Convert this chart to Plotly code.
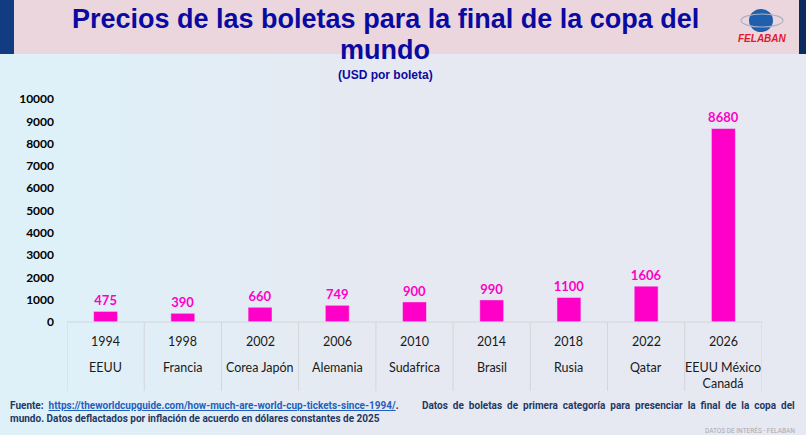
import plotly.graph_objects as go

W, H = 806, 435
L, R, T, B = 67, 44, 99, 113   # plot area in pixels

anios = ["1994", "1998", "2002", "2006", "2010", "2014", "2018", "2022", "2026"]
sedes = ["EEUU", "Francia", "Corea Japón", "Alemania", "Sudafrica", "Brasil", "Rusia", "Qatar",
         "EEUU México<br>Canadá"]
precios = [475, 390, 660, 749, 900, 990, 1100, 1606, 8680]
ticks_y = [0, 1000, 2000, 3000, 4000, 5000, 6000, 7000, 8000, 9000, 10000]

AZUL = "#0a0aa0"
MAGENTA = "#ff00c8"


# convierte pixeles de la ventana a coordenadas paper
def px(x):
    return (x - L) / (W - L - R)


def py(y):
    return (H - B - y) / (H - T - B)


pos = list(range(len(anios)))

fig = go.Figure()
fig.add_trace(go.Bar(
    x=pos, y=precios, width=0.31,
    marker_color=MAGENTA,
    text=[str(p) for p in precios], textposition="outside", constraintext="none",
    cliponaxis=False,
    textfont=dict(family="Lato", size=13, color=MAGENTA, weight="bold"),
    hoverinfo="skip"))

shapes = []
# zona mas clara a la izquierda del fondo (degradado aproximado)
for w in range(40, 400, 40):
    shapes.append(dict(type="rect", xref="paper", yref="paper", x0=px(0), x1=px(w), y0=py(435), y1=py(54),
                       fillcolor="#e2f6fd", opacity=0.12, line_width=0, layer="below"))
# banda del titulo y franjas laterales
shapes.append(dict(type="rect", xref="paper", yref="paper", x0=px(14), x1=px(799), y0=py(54), y1=py(0),
                   fillcolor="#ecd6de", line_width=0, layer="below"))
shapes.append(dict(type="rect", xref="paper", yref="paper", x0=px(0), x1=px(14), y0=py(54), y1=py(0),
                   fillcolor="#123c82", line_width=0, layer="below"))
shapes.append(dict(type="rect", xref="paper", yref="paper", x0=px(799), x1=px(806), y0=py(54), y1=py(0),
                   fillcolor="#0c2a5e", line_width=0, layer="below"))
# logo
shapes.append(dict(type="circle", xref="paper", yref="paper", x0=px(749), x1=px(773), y0=py(32), y1=py(9),
                   fillcolor="#1f5fae", line_width=0))
shapes.append(dict(type="circle", xref="paper", yref="paper", x0=px(741), x1=px(783), y0=py(27), y1=py(14),
                   line=dict(color="#a9b3c4", width=1.2)))

# tabla de categorias
for i in range(len(anios) + 1):
    shapes.append(dict(type="line", xref="x", yref="paper", x0=i - 0.5, x1=i - 0.5, y0=py(391), y1=0,
                       line=dict(color="#d3d5dc", width=1)))
shapes.append(dict(type="line", xref="x", yref="paper", x0=-0.5, x1=len(anios) - 0.5, y0=0, y1=0,
                   line=dict(color="#d3d5dc", width=1)))

ann = []
for i, (a, s) in enumerate(zip(anios, sedes)):
    ann.append(dict(x=i, y=py(341), xref="x", yref="paper", text=a, showarrow=False,
                    xanchor="center", yanchor="middle",
                    font=dict(family="Lato", size=12.5, color="#1a1a1a")))
    ann.append(dict(x=i, y=py(358), xref="x", yref="paper", text=s, showarrow=False,
                    xanchor="center", yanchor="top",
                    font=dict(family="Lato", size=12.5, color="#1a1a1a")))

# titulo
ann.append(dict(x=px(385), y=py(19), xref="paper", yref="paper", showarrow=False,
                xanchor="center", yanchor="middle",
                text="<b>Precios de las boletas para la final de la copa del</b>",
                font=dict(family="Liberation Sans", size=27, color=AZUL)))
ann.append(dict(x=px(385), y=py(50), xref="paper", yref="paper", showarrow=False,
                xanchor="center", yanchor="middle",
                text="<b>mundo</b>", font=dict(family="Liberation Sans", size=27, color=AZUL)))
ann.append(dict(x=px(385), y=py(75), xref="paper", yref="paper", showarrow=False,
                xanchor="center", yanchor="middle",
                text="<b>(USD por boleta)</b>", font=dict(family="Liberation Sans", size=12, color=AZUL)))
ann.append(dict(x=px(762), y=py(39), xref="paper", yref="paper", showarrow=False,
                xanchor="center", yanchor="middle",
                text="<b><i>FELABAN</i></b>", font=dict(family="Liberation Sans", size=10, color="#e0192b")))

# fuente (la primera linea va justificada: se parte en dos trozos)
NAVY = "#1f3864"
ann.append(dict(x=px(8), y=py(405), xref="paper", yref="paper", showarrow=False,
                xanchor="left", yanchor="middle",
                text="<b>Fuente:  <span style='color:#1f5fbf'><u>https://theworldcupguide.com/how-much-are-world-cup-tickets-since-1994/</u></span>.</b>",
                font=dict(family="Roboto", size=10, color=NAVY)))
ann.append(dict(x=px(797), y=py(405), xref="paper", yref="paper", showarrow=False,
                xanchor="right", yanchor="middle",
                text="<b>Datos  de  boletas  de  primera  categoría  para  presenciar  la  final  de  la  copa  del</b>",
                font=dict(family="Roboto", size=10, color=NAVY)))
ann.append(dict(x=px(8), y=py(418), xref="paper", yref="paper", showarrow=False,
                xanchor="left", yanchor="middle",
                text="<b>mundo. Datos deflactados por inflación de acuerdo en dólares constantes de 2025</b>",
                font=dict(family="Roboto", size=10, color=NAVY)))
ann.append(dict(x=px(797), y=py(430), xref="paper", yref="paper", showarrow=False,
                xanchor="right", yanchor="middle",
                text="DATOS DE INTERÉS - FELABAN", font=dict(family="Roboto", size=6.5, color="#a8a8b0")))

fig.update_layout(
    width=W, height=H,
    margin=dict(l=L, r=R, t=T, b=B),
    paper_bgcolor="#e6e9f1", plot_bgcolor="rgba(0,0,0,0)",
    showlegend=False,
    shapes=shapes, annotations=ann,
    xaxis=dict(range=[-0.5, len(anios) - 0.5], showticklabels=False, showgrid=False, zeroline=False,
               fixedrange=True),
    yaxis=dict(range=[0, 10000], tickvals=ticks_y, tickformat="d", showgrid=False, zeroline=False,
               showline=False, ticklabelstandoff=12,
               tickfont=dict(family="Lato", size=12, color="#000000", weight="bold"), fixedrange=True),
)

fig.write_html("out.html", config={"displayModeBar": False},
               post_script="document.body.style.margin='0px';")
